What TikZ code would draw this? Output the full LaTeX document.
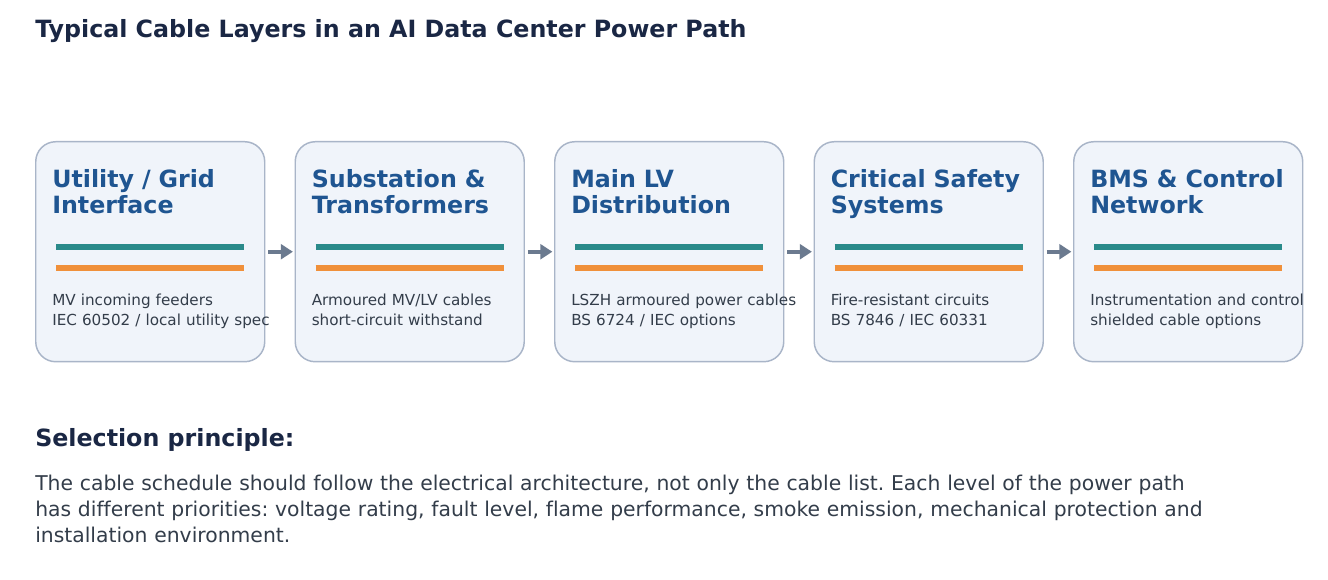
\documentclass[tikz,border=0pt]{standalone}
\usepackage{fontspec}
\setmainfont[Ligatures={NoCommon}]{DejaVu Sans}
\usetikzlibrary{arrows.meta}
\frenchspacing
\definecolor{navy}{HTML}{1A2744}
\definecolor{boxfill}{HTML}{F0F4FA}
\definecolor{boxline}{HTML}{A9B5C8}
\definecolor{titleblue}{HTML}{1F5591}
\definecolor{tealc}{HTML}{2A8A8A}
\definecolor{cableorange}{HTML}{F0903A}
\definecolor{desc}{HTML}{333D4A}
\definecolor{arrowgray}{HTML}{6B7A8F}
\tikzset{
  stagebox/.style={draw=boxline, line width=1.1pt, fill=boxfill, rounded corners=15pt},
  stagetitle/.style={anchor=base west, inner sep=0pt, text width=200pt, align=left, text=titleblue,
    font=\bfseries\fontsize{17.8pt}{18.8pt}\selectfont},
  stagedesc/.style={anchor=base west, inner sep=0pt, text width=200pt, align=left, text=desc,
    font=\fontsize{11.4pt}{15pt}\selectfont},
  tealcable/.style={draw=tealc, line width=3.8pt},
  orangecable/.style={draw=cableorange, line width=3.8pt},
  flowarrow/.style={draw=arrowgray, line width=3pt, -{Triangle[length=9pt,width=11pt]}},
  headline/.style={anchor=base west, inner sep=0pt, text=navy, font=\bfseries\fontsize{17.8pt}{20pt}\selectfont},
}
\begin{document}
\begin{tikzpicture}[x=0.75pt,y=-0.75pt]
\useasboundingbox (0,0) rectangle (1328,580);
\fill[white] (0,0) rectangle (1328,580);
\node[headline] (title) at (35,38) {Typical Cable Layers in an AI Data Center Power Path};

\foreach \i/\ttl/\dsc in {
  1/{Utility / Grid\\Interface}/{MV incoming feeders\\IEC 60502 / local utility spec},
  2/{Substation \&\\Transformers}/{Armoured MV/LV cables\\short-circuit withstand},
  3/{Main LV\\Distribution}/{LSZH armoured power cables\\BS 6724 / IEC options},
  4/{Critical Safety\\Systems}/{Fire-resistant circuits\\BS 7846 / IEC 60331},
  5/{BMS \& Control\\Network}/{Instrumentation and control\\shielded cable options}} {
  \pgfmathsetmacro{\xo}{35+(\i-1)*259.5}
  \node[stagebox, minimum width=171.75pt, minimum height=165pt, anchor=north west, inner sep=0pt] (box\i) at (\xo,141) {};
  \node[stagetitle] (t\i) at (\xo+17,188) {\ttl};
  \coordinate (ta\i) at (\xo+21,247);
  \coordinate (tb\i) at (\xo+209,247);
  \coordinate (oa\i) at (\xo+21,268);
  \coordinate (ob\i) at (\xo+209,268);
  \draw[tealcable] (ta\i) -- (tb\i);
  \draw[orangecable] (oa\i) -- (ob\i);
  \node[stagedesc] (d\i) at (\xo+17,306) {\dsc};
}
\foreach \i/\j in {1/2,2/3,3/4,4/5} {
  \draw[flowarrow] ([xshift=2.25pt]box\i.east) -- ([xshift=-1.2pt]box\j.west);
}

\node[headline] (sel) at (35,447) {Selection principle:};
\node[anchor=base west, inner sep=0pt, text width=950pt, align=left, text=desc, font=\fontsize{15.25pt}{19.5pt}\selectfont] (para) at (35,491) {The cable schedule should follow the electrical architecture, not only the cable list. Each level of the power path\\has different priorities: voltage rating, fault level, flame performance, smoke emission, mechanical protection and\\installation environment.};
\end{tikzpicture}
\end{document}
